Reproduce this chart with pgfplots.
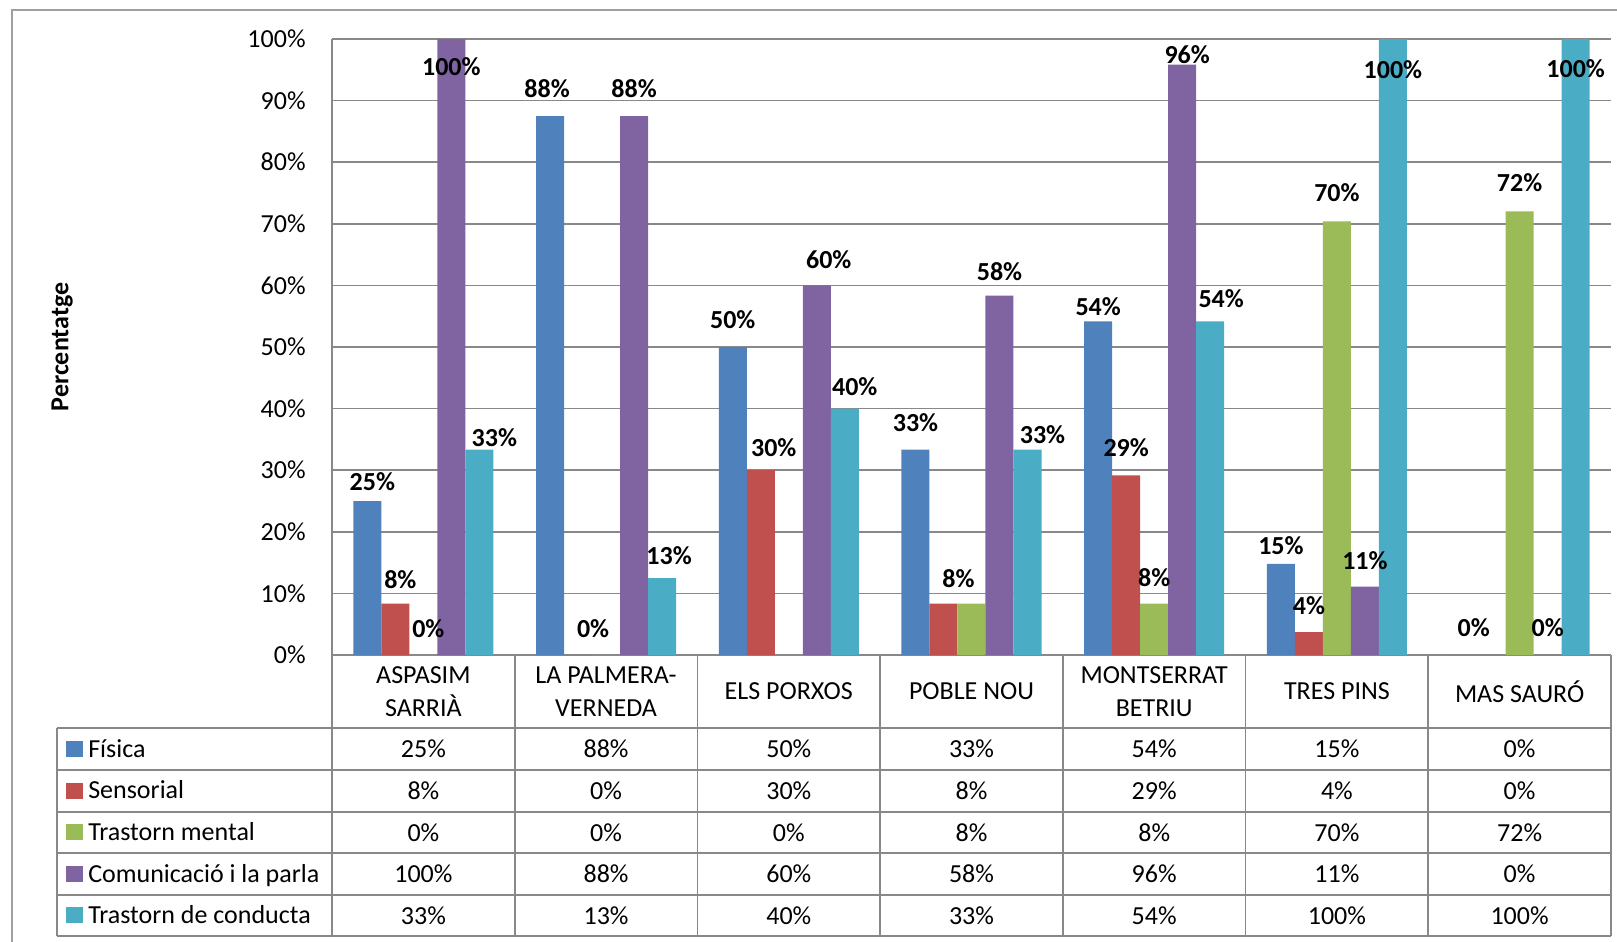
\documentclass[border=0pt]{standalone}
\usepackage{fontspec}
\setmainfont{Carlito}
\usepackage{pgfplots}
\usepackage{pgfplotstable}
\pgfplotsset{compat=1.18}

\definecolor{fis}{HTML}{4F81BD}
\definecolor{sen}{HTML}{C0504D}
\definecolor{men}{HTML}{9BBB59}
\definecolor{com}{HTML}{8064A2}
\definecolor{con}{HTML}{4BACC6}
\definecolor{gridc}{HTML}{888888}
\definecolor{framec}{HTML}{A0A0A0}

% bar label: \barlab{dx pt}{dy pt}{value}, nudged like Excel does
\DeclareRobustCommand\barlab[3]{\makebox[0pt]{\hspace*{#1pt}\hspace*{#1pt}\raisebox{#2pt}{#3\%}}}

\pgfplotsset{sqleg/.style={legend image code/.code={\fill[#1] (0pt,-3.75pt) rectangle (8pt,3.75pt);}}}

\pgfplotstableread{
x y lab
0 25 \barlab{2.5}{-1}{25}
1 87.5 \barlab{-1.5}{3}{88}
2 50 \barlab{0}{3}{50}
3 33.33 \barlab{0}{3}{33}
4 54.17 \barlab{0}{-3.5}{54}
5 14.8 \barlab{0}{-1.5}{15}
6 0 \barlab{5}{3}{0}
}\fisica
\pgfplotstableread{
x y lab
0 8.33 \barlab{2.5}{1.5}{8}
1 0 \barlab{7.5}{2.5}{0}
2 30 \barlab{6.5}{0.5}{30}
3 8.33 \barlab{7.5}{2}{8}
4 29.17 \barlab{0}{3}{29}
5 3.7 \barlab{0}{2.5}{4}
6 0 {}
}\sensorial
\pgfplotstableread{
x y lab
0 0 \barlab{2.5}{2.5}{0}
1 0 {}
2 0 {}
3 8.33 {}
4 8.33 \barlab{0}{2.5}{8}
5 70.4 \barlab{0}{3.5}{70}
6 72 \barlab{0}{3.5}{72}
}\mental
\pgfplotstableread{
x y lab
0 100 \barlab{0}{-24.5}{100}
1 87.5 \barlab{0}{3}{88}
2 60 \barlab{6}{2}{60}
3 58.33 \barlab{0}{1.5}{58}
4 95.83 \barlab{2.5}{-5.5}{96}
5 11.1 \barlab{0}{2.5}{11}
6 0 \barlab{0}{3}{0}
}\comunicacio
\pgfplotstableread{
x y lab
0 33.33 \barlab{7.5}{-4.5}{33}
1 12.5 \barlab{3.5}{0.5}{13}
2 40 \barlab{5}{0.5}{40}
3 33.33 \barlab{7.5}{-3}{33}
4 54.17 \barlab{5.5}{0.5}{54}
5 100 \barlab{0}{-26}{100}
6 100 \barlab{0}{-25.5}{100}
}\conducta

\begin{document}
\begin{tikzpicture}
\begin{axis}[
  at={(166pt,-327.5pt)}, anchor=south west,
  scale only axis, width=639.5pt, height=308pt,
  xmin=-0.5, xmax=6.5, ymin=0, ymax=100,
  ybar=0pt, bar width=14pt,
  axis lines*=left,
  axis line style={gridc, line width=0.85pt},
  ymajorgrids, grid style={gridc, line width=0.85pt},
  major tick length=0pt,
  ytick={0,10,...,100},
  yticklabel={\pgfmathprintnumber{\tick}\%},
  /pgf/number format/assume math mode=true,
  yticklabel style={anchor=east, inner sep=0pt, xshift=-13pt, font=\fontsize{13}{15}\selectfont},
  xtick={0,...,6},
  xticklabels={{ASPASIM\\SARRIÀ},{LA PALMERA-\\VERNEDA},ELS PORXOS,POBLE NOU,{MONTSERRAT\\BETRIU},TRES PINS,MAS SAURÓ},
  xticklabel style={align=center, anchor=center, inner sep=0pt, yshift=-18.25pt, font=\fontsize{13}{16.5}\selectfont},
  ylabel={Percentatge},
  ylabel style={at={(axis description cs:-0.211,0.5)}, anchor=center, font=\bfseries\fontsize{13}{15}\selectfont},
  clip=false,
  point meta=explicit symbolic,
  nodes near coords={\pgfplotspointmeta},
  nodes near coords style={font=\bfseries\fontsize{13}{15}\selectfont, anchor=base, inner sep=0pt, yshift=6.3pt},
  legend style={at={(-0.208,-0.1185)}, anchor=north west, draw=none, fill=none,
    inner sep=0pt, outer sep=0pt, row sep=0pt, column sep=0pt,
    font=\fontsize{13}{15}\selectfont, cells={anchor=west},
    nodes={inner ysep=0pt, inner xsep=2.75pt, text height=14.6pt, text depth=6.2pt}},
]
\addplot[fill=fis, draw=none, forget plot, bar shift=-28pt] table[x=x, y=y, meta=lab] {\fisica};
\addplot[fill=sen, draw=none, forget plot, bar shift=-14pt] table[x=x, y=y, meta=lab] {\sensorial};
\addplot[fill=men, draw=none, forget plot, bar shift=0pt] table[x=x, y=y, meta=lab] {\mental};
\addplot[fill=com, draw=none, forget plot, bar shift=14pt] table[x=x, y=y, meta=lab] {\comunicacio};
\addplot[fill=con, draw=none, forget plot, bar shift=28pt] table[x=x, y=y, meta=lab] {\conducta};
\addlegendimage{sqleg=fis}\addlegendentry{Física}
\addlegendimage{sqleg=sen}\addlegendentry{Sensorial}
\addlegendimage{sqleg=men}\addlegendentry{Trastorn mental}
\addlegendimage{sqleg=com}\addlegendentry{Comunicació i la parla}
\addlegendimage{sqleg=con}\addlegendentry{Trastorn de conducta}
\end{axis}

% data table under the chart, coordinates in px of the 1617x942 image
\begin{scope}[x=0.5pt, y=-0.5pt]
\draw[framec, line width=0.75pt] (12,950) -- (12,10) -- (1625,10);
\begin{scope}[gridc, line width=0.85pt]
\foreach \yy in {728,770,812,853,895,936} \draw (57,\yy) -- (1611,\yy);
\foreach \k in {0,...,7} \draw ({332+182.7*\k},655) -- ({332+182.7*\k},936);
\draw (57,728) -- (57,936);
\end{scope}
\begin{scope}[font=\fontsize{13}{15}\selectfont]
\foreach \vals/\yy in {{25,88,50,33,54,15,0}/749,
                       {8,0,30,8,29,4,0}/791,
                       {0,0,0,8,8,70,72}/832.5,
                       {100,88,60,58,96,11,0}/874,
                       {33,13,40,33,54,100,100}/915.5}
  \foreach \v [count=\i from 0] in \vals
    \node[anchor=center, inner sep=0pt] at ({423.4+182.7*\i},\yy) {\v\%};
\end{scope}
\end{scope}
\pgfresetboundingbox
\path[use as bounding box] (0,0) rectangle (808.5pt,-471pt);
\end{tikzpicture}
\end{document}
